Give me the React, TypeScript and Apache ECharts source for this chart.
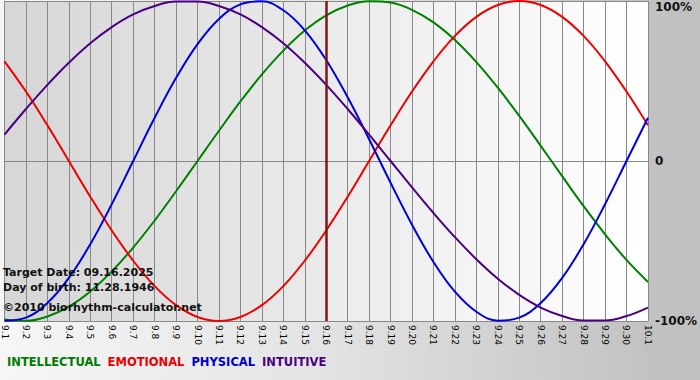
import React, { useEffect, useRef } from 'react';
import * as echarts from 'echarts';

const days = ['9.1','9.2','9.3','9.4','9.5','9.6','9.7','9.8','9.9','9.10','9.11','9.12','9.13','9.14','9.15','9.16','9.17','9.18','9.19','9.20','9.21','9.22','9.23','9.24','9.25','9.26','9.27','9.28','9.29','9.30','10.1'];

const intellectual = [-99.0, -99.9, -97.2, -91.0, -81.5, -69.0, -54.1, -37.2, -18.9, 0, 18.9, 37.2, 54.1, 69.0, 81.5, 91.0, 97.2, 99.9, 99.0, 94.5, 86.6, 75.6, 61.8, 45.8, 28.2, 9.5, -9.5, -28.2, -45.8, -61.8, -75.6];
const emotional = [62.3, 43.4, 22.3, 0, -22.3, -43.4, -62.3, -78.2, -90.1, -97.5, -100, -97.5, -90.1, -78.2, -62.3, -43.4, -22.3, 0, 22.3, 43.4, 62.3, 78.2, 90.1, 97.5, 100, 97.5, 90.1, 78.2, 62.3, 43.4, 22.3];
const physical = [-99.8, -97.9, -88.8, -73.1, -52.0, -27.0, 0, 27.0, 52.0, 73.1, 88.8, 97.9, 99.8, 94.2, 81.7, 63.1, 39.8, 13.6, -13.6, -39.8, -63.1, -81.7, -94.2, -99.8, -97.9, -88.8, -73.1, -52.0, -27.0, 0, 27.0];
const intuitive = [16.5, 32.5, 47.6, 61.4, 73.6, 83.7, 91.6, 96.9, 99.7, 99.7, 96.9, 91.6, 83.7, 73.6, 61.4, 47.6, 32.5, 16.5, 0, -16.5, -32.5, -47.6, -61.4, -73.6, -83.7, -91.6, -96.9, -99.7, -99.7, -96.9, -91.6];

const targetDay = '9.16';
const infoLines = ['Target Date: 09.16.2025', 'Day of birth: 11.28.1946', '\u00a92010 biorhythm-calculator.net'];

const FONT = '"DejaVu Sans", Verdana, sans-serif';

export default function App() {
  const ref = useRef<HTMLDivElement>(null);
  useEffect(() => {
    document.body.style.margin = '0';
    const chart = echarts.init(ref.current!, null, { renderer: 'svg' });
    const mk = (name: string, data: number[], color: string, extra: any = {}) => ({
      name,
      type: 'line',
      data,
      smooth: 0.4,
      showSymbol: false,
      symbol: 'none',
      lineStyle: { color, width: 2 },
      itemStyle: { color },
      emphasis: { disabled: true },
      silent: true,
      ...extra,
    });
    chart.setOption({
      animation: false,
      textStyle: { fontFamily: FONT },
      grid: {
        left: 0,
        right: 49,
        top: 1,
        bottom: 59,
        show: true,
        borderWidth: 0,
        backgroundColor: new echarts.graphic.LinearGradient(0, 0, 1, 0, [
          { offset: 0, color: '#d6d6d6' },
          { offset: 1, color: '#ffffff' },
        ]),
      },
      legend: {
        left: -3,
        top: 351,
        icon: 'rect',
        itemWidth: 0,
        itemHeight: 0,
        itemGap: 2,
        selectedMode: false,
        textStyle: { fontFamily: FONT, fontWeight: 'bold', fontSize: 11.5 },
        data: [
          { name: 'INTELLECTUAL', textStyle: { color: '#007a00' } },
          { name: 'EMOTIONAL', textStyle: { color: '#e80000' } },
          { name: 'PHYSICAL', textStyle: { color: '#0000cc' } },
          { name: 'INTUITIVE', textStyle: { color: '#4b0082' } },
        ],
      },
      xAxis: {
        type: 'category',
        data: days,
        boundaryGap: false,
        axisLine: { show: true, lineStyle: { color: '#888888', width: 1 } },
        axisTick: { show: true, length: 4, interval: 0, lineStyle: { color: '#888888' } },
        splitLine: { show: true, interval: 0, lineStyle: { color: '#888888', width: 1 } },
        axisLabel: {
          interval: 0,
          rotate: -90,
          margin: 4,
          fontSize: 9,
          fontFamily: FONT,
          color: '#000000',
        },
      },
      yAxis: {
        type: 'value',
        position: 'right',
        min: -100,
        max: 100,
        interval: 100,
        axisLine: { show: false },
        axisTick: { show: false },
        splitLine: { show: true, lineStyle: { color: '#888888', width: 1 } },
        axisLabel: {
          margin: 7,
          fontSize: 12,
          fontWeight: 'bold',
          fontFamily: FONT,
          color: '#111111',
          formatter: (v: number) => (v === 100 ? '{t|100%}' : v === 0 ? '0' : v + '%'),
          rich: {
            t: { fontSize: 12, fontWeight: 'bold', fontFamily: FONT, color: '#111111', padding: [12, 0, 0, 0] },
          },
        },
      },
      graphic: infoLines.map((t, i) => ({
        type: 'text',
        x: 3,
        y: [272, 287, 307][i],
        z: 100,
        silent: true,
        style: {
          text: t,
          fill: '#111111',
          fontSize: 11,
          fontWeight: 'bold',
          fontFamily: FONT,
          verticalAlign: 'middle',
        },
      })),
      series: [
        mk('INTELLECTUAL', intellectual, '#008000', {
          markLine: {
            silent: true,
            symbol: ['none', 'none'],
            label: { show: false },
            lineStyle: { color: '#7a1818', width: 2.5, type: 'solid' },
            data: [{ xAxis: targetDay }],
          },
        }),
        mk('EMOTIONAL', emotional, '#ee0000'),
        mk('PHYSICAL', physical, '#0000dd'),
        mk('INTUITIVE', intuitive, '#4b0082'),
      ],
    });
    return () => chart.dispose();
  }, []);
  return (
    <div
      ref={ref}
      style={{
        position: 'absolute',
        left: 0,
        top: 0,
        width: 700,
        height: 380,
        background: 'linear-gradient(90deg, #f6f6f6 0%, #e4e4e4 45%, #c2c2c2 93%, #c0c0c0 100%)',
      }}
    />
  );
}
